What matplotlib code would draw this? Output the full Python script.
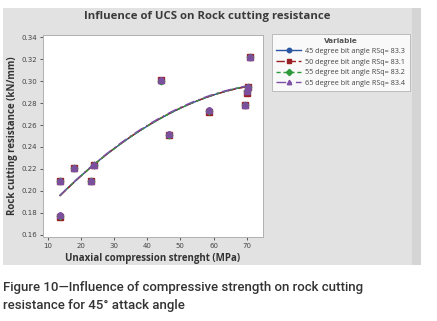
import numpy as np
import matplotlib
matplotlib.use("Agg")
import matplotlib.pyplot as plt
from matplotlib.patches import Rectangle
from matplotlib.lines import Line2D

# UCS values (MPa) shared by all series
ucs = [13.7, 13.7, 17.9, 23.2, 24.0, 44.2, 46.6, 58.5, 69.4, 70.0, 70.3, 71.1]

# rock cutting resistance (kN/mm) per bit angle
res_45 = [0.209, 0.177, 0.221, 0.209, 0.224, 0.300, 0.251, 0.273, 0.278, 0.290, 0.295, 0.322]
res_50 = [0.209, 0.176, 0.221, 0.209, 0.224, 0.301, 0.251, 0.272, 0.278, 0.289, 0.295, 0.322]
res_55 = [0.209, 0.177, 0.221, 0.209, 0.224, 0.300, 0.251, 0.273, 0.278, 0.291, 0.295, 0.322]
res_65 = [0.209, 0.178, 0.221, 0.209, 0.224, 0.301, 0.252, 0.274, 0.278, 0.291, 0.295, 0.322]

labels = ["45 degree bit angle RSq= 83.3",
          "50 degree bit angle RSq= 83.1",
          "55 degree bit angle RSq= 83.2",
          "65 degree bit angle RSq= 83.4"]

x_ticks = [10, 20, 30, 40, 50, 60, 70]
y_ticks = [0.16, 0.18, 0.20, 0.22, 0.24, 0.26, 0.28, 0.30, 0.32, 0.34]

styles = [
    dict(color="#2a55a5", marker="o", ls="-"),
    dict(color="#9a1f24", marker="s", ls=(0, (6, 2))),
    dict(color="#2f9a3c", marker="D", ls=(0, (3, 2))),
    dict(color="#7e4fa6", marker="^", ls=(0, (7, 3, 1, 3))),
]

W, H = 437, 321
fig = plt.figure(figsize=(W / 100, H / 100), dpi=100)
fig.patch.set_facecolor("white")

# grey chart panel behind everything
bg = fig.add_axes([0, 0, 1, 1], zorder=-5)
bg.set_xlim(0, W)
bg.set_ylim(H, 0)
bg.axis("off")
bg.add_patch(Rectangle((3, 8), 418, 257, color="#e2e2e2", lw=0))
bg.add_patch(Rectangle((412, 8), 9, 257, color="#d5d5d5", lw=0))

ax = fig.add_axes([43 / W, 1 - 237 / H, 220 / W, 202 / H])
ax.set_facecolor("white")

series = [res_45, res_50, res_55, res_65]
handles = []
for ys, st in zip(series, styles):
    # quadratic fitted line (Minitab fitted line plot)
    coef = np.polyfit(ucs, ys, 2)
    xf = np.linspace(min(ucs), max(ucs) - 0.6, 100)
    ax.plot(xf, np.polyval(coef, xf), color=st["color"], ls=st["ls"], lw=1.0)
    ax.plot(ucs, ys, ls="none", marker=st["marker"], color=st["color"],
            markersize=4.0 if st["marker"] != "D" else 3.4)
    handles.append(Line2D([], [], color=st["color"], ls=st["ls"], lw=1.0,
                          marker=st["marker"], markersize=3.2))
# points drawn over in the purple tone seen in the reference
ax.plot(ucs, res_65, ls="none", marker="o", color="#7b4f9e", markersize=3.8)

ax.set_xlim(8.6, 74.9)
ax.set_ylim(0.158, 0.342)
ax.set_xticks(x_ticks)
ax.set_yticks(y_ticks)
ax.set_yticklabels([f"{v:.2f}" for v in y_ticks])
ax.tick_params(labelsize=5, colors="#444444", length=2, width=0.6, pad=2)
for s in ax.spines.values():
    s.set_color("#b0b0b0")
    s.set_linewidth(0.7)

ax.set_xlabel("Unaxial compression strenght (MPa)", fontsize=7, fontweight="bold",
              color="#333333", family="Open Sans", labelpad=3)
ax.set_ylabel("Rock cutting resistance (kN/mm)", fontsize=7, fontweight="bold",
              color="#333333", family="Open Sans", labelpad=3)

fig.text(207 / W, 1 - 17 / H, "Influence of UCS on Rock cutting resistance",
         ha="center", va="center", fontsize=8.2, fontweight="bold",
         color="#3a3a3a", family="Open Sans")

leg = fig.legend(handles, labels, title="Variable", loc="upper left",
                 bbox_to_anchor=(272 / W, 1 - 34 / H),
                 title_fontsize=5.2, frameon=True, fancybox=False,
                 handlelength=3.4, handletextpad=0.6, labelspacing=0.5,
                 borderpad=0.6, borderaxespad=0,
                 prop=dict(family="Open Sans", size=5.2))
leg.get_frame().set_edgecolor("#b0b0b0")
leg.get_frame().set_linewidth(0.7)
leg.get_title().set_fontweight("bold")
leg.get_title().set_color("#555555")
for t in leg.get_texts():
    t.set_color("#444444")

fig.text(3 / W, 1 - 287 / H, "Figure 10\u2014Influence of compressive strength on rock cutting",
         ha="left", va="center", fontsize=9.5, color="#333333", family="Roboto",
         fontweight="medium")
fig.text(3 / W, 1 - 306 / H, "resistance for 45\u00b0 attack angle",
         ha="left", va="center", fontsize=9.5, color="#333333", family="Roboto",
         fontweight="medium")

fig.savefig("out.png", dpi=100, facecolor="white")
